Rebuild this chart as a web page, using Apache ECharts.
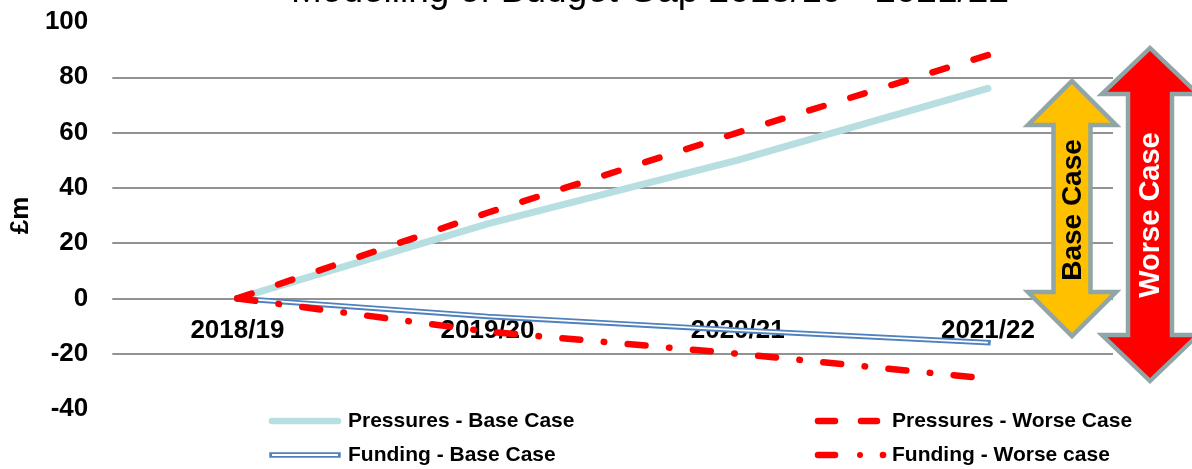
<!DOCTYPE html>
<html>
<head>
<meta charset="utf-8">
<script src="https://cdn.jsdelivr.net/npm/echarts@6/dist/echarts.min.js"></script>
<style>
  html, body { margin: 0; padding: 0; background: #fff; }
  #chart { width: 1192px; height: 469px; }
</style>
</head>
<body>
<div id="chart"></div>
<script>
// Budget gap modelling, £m, by financial year
const years = ['2018/19', '2019/20', '2020/21', '2021/22'];
const pressuresBase = [0, 27, 50, 76];
const pressuresWorse = [0, 31, 60, 88];
const fundingBase = [0, -6.5, -11.5, -16];
const fundingWorse = [0, -12, -20, -29];
const yTicks = { min: -40, max: 100, step: 20 };

const FONT = "'Liberation Sans', Arial, sans-serif";
const RED = '#FF0000';
const LIGHT_BLUE = '#B7DEE0';
const BLUE = '#4F81BD';
const ARROW_EDGE = '#8FA5A8';

// grid geometry: the category labels sit just under the zero line
const GRID = { left: 110, right: 79, top: 22, bottom: 60 };
const plotHeight = 469 - GRID.top - GRID.bottom;
const zeroOffset = -plotHeight * (0 - yTicks.min) / (yTicks.max - yTicks.min);

// Double-headed vertical arrow outline
function arrowPoints(cx, top, bottom, headHalf, shaftHalf, headLen) {
  return [
    [cx, top], [cx + headHalf, top + headLen], [cx + shaftHalf, top + headLen],
    [cx + shaftHalf, bottom - headLen], [cx + headHalf, bottom - headLen], [cx, bottom],
    [cx - headHalf, bottom - headLen], [cx - shaftHalf, bottom - headLen],
    [cx - shaftHalf, top + headLen], [cx - headHalf, top + headLen]
  ];
}

function legendText(x, y, text) {
  return {
    type: 'text', x: x, y: y,
    style: { text: text, font: 'bold 21px ' + FONT, fill: '#000', textAlign: 'left', textVerticalAlign: 'middle' }
  };
}
function seg(x1, y1, x2, y2, stroke, width, cap) {
  return {
    type: 'line', shape: { x1: x1, y1: y1, x2: x2, y2: y2 },
    style: { stroke: stroke, lineWidth: width, lineCap: cap || 'round' }
  };
}

const chart = echarts.init(document.getElementById('chart'), null, { renderer: 'canvas' });

chart.setOption({
  animation: false,
  backgroundColor: '#fff',
  grid: { left: GRID.left, right: GRID.right, top: GRID.top, bottom: GRID.bottom, containLabel: false },
  xAxis: {
    type: 'category',
    data: years,
    boundaryGap: true,
    position: 'bottom',
    offset: zeroOffset,
    axisLine: { show: false, onZero: false },
    axisTick: { show: false },
    axisLabel: { margin: 19, fontSize: 26, fontWeight: 'bold', color: '#000', fontFamily: FONT },
    splitLine: { show: false }
  },
  yAxis: {
    type: 'value',
    min: yTicks.min, max: yTicks.max, interval: yTicks.step,
    name: '£m',
    nameLocation: 'middle',
    nameGap: 76,
    nameTextStyle: { fontSize: 26, fontWeight: 'bold', color: '#000', fontFamily: FONT },
    axisLine: { show: false },
    axisTick: { show: false },
    axisLabel: { margin: 24, fontSize: 26, fontWeight: 'bold', color: '#000', fontFamily: FONT },
    splitLine: { show: true, showMinLine: false, showMaxLine: false, lineStyle: { color: '#6e6e6e', width: 1.5 } }
  },
  series: [
    {
      name: 'Pressures - Base Case', type: 'line', data: pressuresBase,
      symbol: 'none', z: 2,
      lineStyle: { color: LIGHT_BLUE, width: 7, cap: 'round' }
    },
    {
      name: 'Funding - Base Case', type: 'line', data: fundingBase,
      symbol: 'none', z: 3,
      lineStyle: { color: BLUE, width: 5.5, cap: 'square' }
    },
    {
      name: 'Funding - Base Case (core)', type: 'line', data: fundingBase,
      symbol: 'none', z: 4, silent: true,
      lineStyle: { color: '#ffffff', width: 1.8, cap: 'butt' }
    },
    {
      name: 'Pressures - Worse Case', type: 'line', data: pressuresWorse,
      symbol: 'none', z: 5,
      lineStyle: { color: RED, width: 6.5, cap: 'round', type: [15, 28] }
    },
    {
      name: 'Funding - Worse case', type: 'line', data: fundingWorse,
      symbol: 'none', z: 5,
      lineStyle: { color: RED, width: 6.5, cap: 'round', type: [18, 23.5, 0.5, 23.5] }
    }
  ],
  graphic: [
    // chart title
    {
      type: 'text', x: 650, y: -8,
      style: { text: 'Modelling of Budget Gap 2018/19 - 2021/22', font: '37px ' + FONT, fill: '#000', textAlign: 'center', textVerticalAlign: 'middle' }
    },
    // Base case range arrow
    {
      type: 'polygon', z: 10,
      shape: { points: arrowPoints(1072, 81, 336, 44, 18.5, 44) },
      style: { fill: '#FFC000', stroke: ARROW_EDGE, lineWidth: 4.5, lineJoin: 'miter' }
    },
    {
      type: 'text', z: 11, x: 1073, y: 210, rotation: Math.PI / 2,
      style: { text: 'Base Case', font: 'bold 28px ' + FONT, fill: '#000', textAlign: 'center', textVerticalAlign: 'middle' }
    },
    // Worse case range arrow
    {
      type: 'polygon', z: 10,
      shape: { points: arrowPoints(1150, 48, 381, 48, 22, 46) },
      style: { fill: RED, stroke: ARROW_EDGE, lineWidth: 4.5, lineJoin: 'miter' }
    },
    {
      type: 'text', z: 11, x: 1151, y: 215, rotation: Math.PI / 2,
      style: { text: 'Worse Case', font: 'bold 29px ' + FONT, fill: '#fff', textAlign: 'center', textVerticalAlign: 'middle' }
    },
    // legend: Pressures - Base Case
    seg(272, 421, 338, 421, LIGHT_BLUE, 6.5),
    legendText(348, 421, 'Pressures - Base Case'),
    // legend: Funding - Base Case (double line)
    seg(272, 455, 338, 455, BLUE, 5.5, 'square'),
    seg(272, 455, 338, 455, '#ffffff', 1.8, 'butt'),
    legendText(348, 455, 'Funding - Base Case'),
    // legend: Pressures - Worse Case
    seg(818, 421, 835, 421, RED, 6.5),
    seg(861, 421, 877, 421, RED, 6.5),
    legendText(892, 421, 'Pressures - Worse Case'),
    // legend: Funding - Worse case
    seg(818, 455, 835, 455, RED, 6.5),
    { type: 'circle', shape: { cx: 860, cy: 455, r: 3 }, style: { fill: RED } },
    { type: 'circle', shape: { cx: 883, cy: 455, r: 3.3 }, style: { fill: RED } },
    legendText(892, 455, 'Funding - Worse case')
  ]
});
</script>
</body>
</html>
